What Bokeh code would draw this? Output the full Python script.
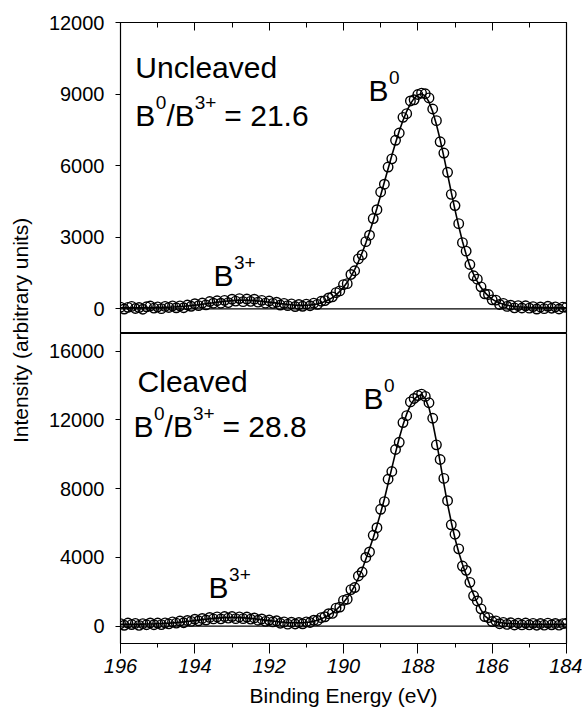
import math
from bokeh.plotting import figure
from bokeh.models import Range1d, FixedTicker, Label
from bokeh.layouts import row, column
from bokeh.embed import file_html
from bokeh.resources import INLINE

# ---------------- data ----------------
energy = [196.0, 195.9, 195.8, 195.7, 195.6, 195.5, 195.4, 195.3, 195.2, 195.1,
          195.0, 194.9, 194.8, 194.7, 194.6, 194.5, 194.4, 194.3, 194.2, 194.1,
          194.0, 193.9, 193.8, 193.7, 193.6, 193.5, 193.4, 193.3, 193.2, 193.1,
          193.0, 192.9, 192.8, 192.7, 192.6, 192.5, 192.4, 192.3, 192.2, 192.1,
          192.0, 191.9, 191.8, 191.7, 191.6, 191.5, 191.4, 191.3, 191.2, 191.1,
          191.0, 190.9, 190.8, 190.7, 190.6, 190.5, 190.4, 190.3, 190.2, 190.1,
          190.0, 189.9, 189.8, 189.7, 189.6, 189.5, 189.4, 189.3, 189.2, 189.1,
          189.0, 188.9, 188.8, 188.7, 188.6, 188.5, 188.4, 188.3, 188.2, 188.1,
          188.0, 187.9, 187.8, 187.7, 187.6, 187.5, 187.4, 187.3, 187.2, 187.1,
          187.0, 186.9, 186.8, 186.7, 186.6, 186.5, 186.4, 186.3, 186.2, 186.1,
          186.0, 185.9, 185.8, 185.7, 185.6, 185.5, 185.4, 185.3, 185.2, 185.1,
          185.0, 184.9, 184.8, 184.7, 184.6, 184.5, 184.4, 184.3, 184.2, 184.1,
          184.0]

uncleaved_counts = [70, -10, 60, 101, 12, 53, -16, 85, 117, 29,
                    82, 6, 101, 57, 124, 43, 124, 46, 160, 105,
                    213, 132, 242, 163, 304, 236, 337, 236, 354, 260,
                    402, 322, 428, 300, 408, 312, 402, 280, 354, 237,
                    328, 228, 277, 158, 229, 132, 207, 95, 178, 105,
                    198, 128, 237, 186, 317, 343, 456, 500, 677, 750,
                    1015, 1054, 1440, 1595, 2091, 2262, 2814, 3086, 3784, 4154,
                    4896, 5223, 5942, 6285, 7063, 7368, 8024, 8179, 8711, 8761,
                    8982, 9040, 9014, 8840, 8375, 7887, 6999, 6529, 5722, 4798,
                    4327, 3569, 2772, 2417, 1857, 1384, 1244, 920, 628, 599,
                    376, 364, 182, 229, 100, 151, 41, 134, 33, 125,
                    28, 92, -10, 78, 6, 105, 24, 83, -8, 71,
                    60]

uncleaved_fit = [40, 40, 40, 41, 42, 43, 44, 45, 47, 49,
                 52, 56, 61, 67, 74, 83, 94, 106, 120, 135,
                 153, 172, 192, 213, 234, 256, 277, 296, 314, 330,
                 342, 352, 358, 360, 358, 352, 342, 330, 314, 297,
                 278, 258, 237, 218, 199, 182, 167, 155, 148, 145,
                 148, 158, 177, 206, 247, 303, 376, 470, 587, 730,
                 905, 1114, 1360, 1645, 1971, 2342, 2754, 3206, 3694, 4214,
                 4756, 5313, 5872, 6425, 6953, 7448, 7894, 8279, 8591, 8821,
                 8962, 9010, 8924, 8670, 8265, 7727, 7089, 6379, 5632, 4878,
                 4147, 3459, 2832, 2277, 1797, 1454, 1144, 890, 688, 529,
                 406, 314, 242, 189, 150, 121, 101, 84, 73, 65,
                 58, 52, 50, 48, 46, 45, 44, 43, 42, 41,
                 40]

cleaved_counts = [152, 52, 183, 95, 166, 48, 151, 85, 190, 86,
                  184, 93, 194, 137, 253, 180, 299, 201, 335, 280,
                  406, 313, 450, 356, 510, 423, 542, 428, 560, 468,
                  560, 438, 540, 438, 532, 413, 480, 346, 420, 283,
                  356, 250, 315, 171, 249, 120, 233, 127, 214, 138,
                  254, 216, 350, 330, 496, 548, 726, 745, 1053, 1112,
                  1501, 1570, 2130, 2250, 2920, 3150, 4000, 4320, 5290, 5730,
                  6800, 7250, 8550, 9000, 10280, 10700, 11850, 12250, 13050, 13250,
                  13420, 13500, 13370, 13000, 12100, 10550, 9700, 8600, 7300, 5900,
                  5350, 4500, 3500, 3250, 2550, 1770, 1470, 1010, 560, 500,
                  270, 310, 145, 225, 105, 200, 70, 172, 76, 182,
                  78, 165, 54, 153, 62, 181, 80, 160, 60, 150,
                  170]

cleaved_fit = [112, 112, 113, 115, 116, 118, 121, 125, 130, 136,
               144, 153, 164, 177, 193, 210, 229, 251, 275, 300,
               326, 353, 380, 406, 430, 453, 472, 488, 500, 508,
               510, 508, 500, 488, 472, 453, 430, 406, 380, 353,
               326, 300, 275, 251, 229, 210, 203, 197, 194, 198,
               214, 246, 290, 350, 426, 518, 636, 775, 943, 1152,
               1381, 1650, 1980, 2350, 2800, 3300, 3900, 4500, 5150, 5850,
               6600, 7400, 8300, 9200, 10100, 10950, 11700, 12350, 12850, 13200,
               13400, 13470, 13250, 12700, 11850, 10750, 9550, 8300, 7100, 6050,
               5100, 4300, 3600, 3000, 2400, 1850, 1350, 950, 600, 420,
               330, 260, 215, 185, 165, 150, 140, 132, 126, 122,
               118, 115, 114, 113, 112, 111, 110, 110, 110, 110,
               110]

baseline_x = [196.0, 184.0]
baseline_y = [0, 0]

x_ticks = [196, 194, 192, 190, 188, 186, 184]
x_minor = [195, 193, 191, 189, 187, 185]
top_yticks = [0, 3000, 6000, 9000, 12000]
bottom_yticks = [0, 4000, 8000, 12000, 16000]

FONT = "Liberation Sans"
BIG = "30px"
SMALL = "19px"

LEFT_W = 33          # width of the strip holding the y-axis title
TOP_H = 333          # top panel: 22 border + 311 frame
BOT_H = 310 + 72     # bottom panel: 310 frame + 72 axis area


def add_text(p, x, y, parts):
    for txt, size, dx, dy in parts:
        p.add_layout(Label(x=x, y=y, x_offset=dx, y_offset=dy, text=txt,
                           text_font=FONT, text_font_size=size,
                           text_color="black", text_align="left",
                           text_baseline="alphabetic"))


def panel(yrange, yticks, is_top, counts, fit):
    p = figure(frame_width=446, frame_height=311 if is_top else 310,
               x_range=Range1d(196, 184), y_range=Range1d(*yrange),
               output_backend="svg", toolbar_location=None,
               x_axis_location="above" if is_top else "below",
               min_border_left=87, min_border_right=16,
               min_border_top=22 if is_top else 0,
               min_border_bottom=0 if is_top else 72)
    p.background_fill_color = "white"
    p.border_fill_color = "white"
    p.outline_line_color = "black"
    p.outline_line_width = 1.2
    p.grid.visible = False

    xa = p.xaxis[0]
    xa.ticker = FixedTicker(ticks=x_ticks, minor_ticks=x_minor)
    xa.axis_line_color = "black"
    xa.major_tick_line_color = "black"
    xa.minor_tick_line_color = "black"
    if is_top:
        xa.major_tick_in = 8
        xa.major_tick_out = 0
        xa.minor_tick_in = 5
        xa.minor_tick_out = 0
        xa.major_label_text_color = None
        xa.major_label_text_font_size = "1px"
        xa.major_label_standoff = 0
    else:
        xa.major_tick_in = 0
        xa.major_tick_out = 10
        xa.minor_tick_in = 0
        xa.minor_tick_out = 4
        xa.major_label_text_font = FONT
        xa.major_label_text_font_size = "20px"
        xa.major_label_text_font_style = "italic"
        xa.major_label_text_color = "black"
        xa.major_label_standoff = 5
        xa.axis_label = "Binding Energy (eV)"
        xa.axis_label_text_font = FONT
        xa.axis_label_text_font_size = "21px"
        xa.axis_label_text_font_style = "normal"
        xa.axis_label_text_color = "black"
        xa.axis_label_standoff = 8

    ya = p.yaxis[0]
    ya.ticker = FixedTicker(ticks=yticks, minor_ticks=[])
    ya.axis_line_color = "black"
    ya.major_tick_line_color = "black"
    ya.major_tick_in = 0
    ya.major_tick_out = 5
    ya.minor_tick_in = 0
    ya.minor_tick_out = 0
    ya.major_label_text_font = FONT
    ya.major_label_text_font_size = "20px"
    ya.major_label_text_color = "black"
    ya.major_label_standoff = 11

    p.line(baseline_x, baseline_y, line_color="black", line_width=1.2)
    p.scatter(energy, counts, marker="circle", size=9.5,
              fill_alpha=0, line_color="black", line_width=1.4)
    p.line(energy, fit, line_color="black", line_width=1.6)
    return p


top = panel((-1035, 12000), top_yticks, True, uncleaved_counts, uncleaved_fit)
bottom = panel((-1007, 17030), bottom_yticks, False, cleaved_counts, cleaved_fit)

add_text(top, 195.6, 10125, [("Uncleaved", BIG, 0, 0)])
add_text(top, 195.6, 8111, [("B", BIG, 0, 0), ("0", SMALL, 20.5, 13),
                            ("/B", BIG, 31.1, 0), ("3+", SMALL, 59.4, 13),
                            ("= 21.6", BIG, 89.0, 0)])
add_text(top, 189.33, 9160, [("B", BIG, 0, 0), ("0", SMALL, 20.5, 13)])
add_text(top, 193.50, 1397, [("B", BIG, 0, 0), ("3+", SMALL, 20.5, 13)])

add_text(bottom, 195.54, 14243, [("Cleaved", BIG, 0, 0)])
add_text(bottom, 195.65, 11635, [("B", BIG, 0, 0), ("0", SMALL, 20.5, 13),
                                 ("/B", BIG, 31.1, 0), ("3+", SMALL, 59.4, 13),
                                 ("= 28.8", BIG, 89.0, 0)])
add_text(bottom, 189.46, 13275, [("B", BIG, 0, 0), ("0", SMALL, 20.5, 13)])
add_text(bottom, 193.63, 2261, [("B", BIG, 0, 0), ("3+", SMALL, 20.5, 13)])

# narrow strip holding the shared y-axis title
total_h = TOP_H + BOT_H
lab = figure(width=LEFT_W, height=total_h, x_range=Range1d(0, LEFT_W),
             y_range=Range1d(total_h, 0),
             output_backend="svg", toolbar_location=None,
             x_axis_location=None, y_axis_location=None, min_border=0)
lab.grid.visible = False
lab.outline_line_color = None
lab.add_layout(Label(x=20, y=330, text="Intensity (arbitrary units)",
                     angle=math.pi / 2, text_font=FONT, text_font_size="21px",
                     text_color="black", text_align="center",
                     text_baseline="middle"))

layout = row(lab, column(top, bottom))
open("out.html", "w").write(file_html(layout, INLINE))
